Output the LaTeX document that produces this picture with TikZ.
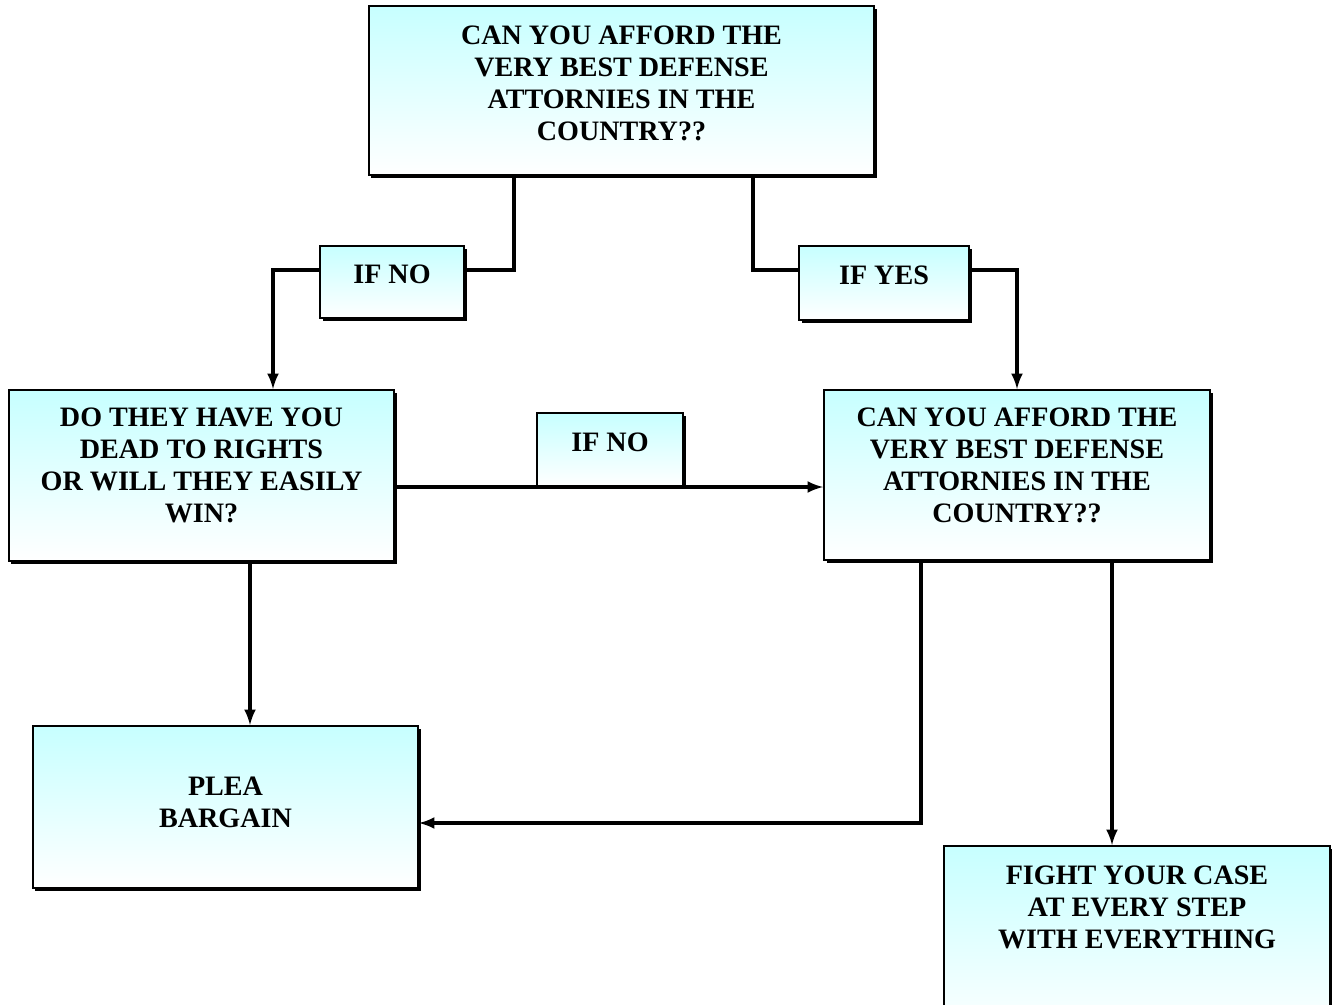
\documentclass[tikz,border=0pt]{standalone}
\usepackage{fontspec}
\setmainfont{Liberation Serif}
\usetikzlibrary{shadows}

\tikzset{
	qbox/.style={draw=black, line width=0.04cm, top color=cyan!22, bottom color=white,
		drop shadow={shadow xshift=0.05cm, shadow yshift=-0.05cm, fill=black, opacity=1},
		align=center, font=\bfseries\fontsize{16}{18.2}\selectfont, inner sep=0pt},
	link/.style={line width=0.07cm, color=black},
}

\begin{document}
\begin{tikzpicture}[x=0.2mm, y=-0.2mm]
			%%%%% START %%%%%
			\useasboundingbox (0, 0) rectangle (1332, 1004);
			
			\node[qbox, minimum width=10.1cm, minimum height=3.38cm, text depth=0.28cm] (afford) at (621.5, 90.5)
				{CAN YOU AFFORD THE\\VERY BEST DEFENSE\\ATTORNIES IN THE\\COUNTRY??};
			
			\node[qbox, minimum width=2.88cm, minimum height=1.44cm, text depth=0.3cm] (ifno) at (392, 282) {IF NO};
			\node[qbox, minimum width=3.4cm, minimum height=1.48cm, text depth=0.3cm] (ifyes) at (884, 283) {IF YES};
			
			\node[qbox, minimum width=7.7cm, minimum height=3.42cm, text depth=0.4cm] (dead) at (201.5, 475.5)
				{DO THEY HAVE YOU\\DEAD TO RIGHTS\\OR WILL THEY EASILY\\WIN?};
			\node[qbox, minimum width=7.72cm, minimum height=3.4cm, text depth=0.4cm] (afford2) at (1017, 475)
				{CAN YOU AFFORD THE\\VERY BEST DEFENSE\\ATTORNIES IN THE\\COUNTRY??};
			
			\node[qbox, minimum width=2.92cm, minimum height=1.46cm, text depth=0.3cm] (ifnob) at (610, 449.5) {IF NO};
			
			\node[qbox, minimum width=7.7cm, minimum height=3.24cm, text depth=0.2cm] (plea) at (225.5, 807) {PLEA\\BARGAIN};
			\node[qbox, minimum width=7.72cm, minimum height=3.88cm, text depth=1.42cm] (fight) at (1137, 943)
				{FIGHT YOUR CASE\\AT EVERY STEP\\WITH EVERYTHING};
			
			% first question
			\draw[link] ([xshift=-2.15cm]afford.south) |- ([yshift=0.24cm]ifno.east);
			\draw[link, -latex] ([yshift=0.24cm]ifno.west) -| ([xshift=1.43cm]dead.north);
			\draw[link] ([xshift=2.63cm]afford.south) |- ([yshift=0.26cm]ifyes.west);
			\draw[link, -latex] ([yshift=0.26cm]ifyes.east) -| (afford2.north);
			
			% second question
			\draw[link, -latex] ([yshift=-0.23cm]dead.east) -- ([yshift=-0.23cm]dead.east -| afford2.west);
			\draw[link, -latex] ([xshift=0.97cm]dead.south) -- ([xshift=0.97cm]dead.south |- plea.north);
			\draw[link, -latex] ([xshift=-1.92cm]afford2.south) |- ([yshift=-0.32cm]plea.east);
			\draw[link, -latex] ([xshift=1.9cm]afford2.south) -- ([xshift=1.9cm]afford2.south |- fight.north);
			
			%%%%% END %%%%%
\end{tikzpicture}
\end{document}
